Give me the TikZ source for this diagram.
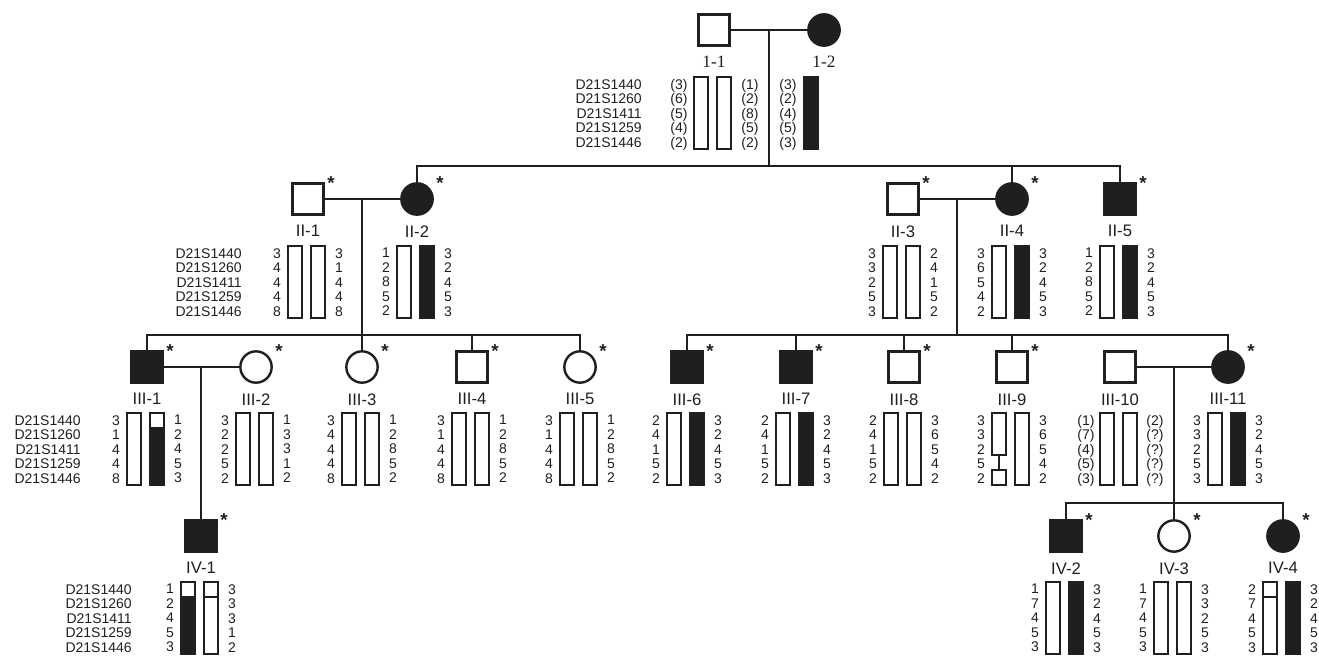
\documentclass[tikz,border=0pt]{standalone}
\usepackage{fontspec}
\setmainfont{Liberation Sans}
\newfontfamily\romfont{Liberation Serif}
\usetikzlibrary{positioning}
\newcommand\markerlist{D21S1440\\D21S1260\\D21S1411\\D21S1259\\D21S1446}

\begin{document}
\begin{tikzpicture}[x=0.75pt,y=-0.75pt,
	person/.style={draw=black!88,line width=1.8pt,minimum size=23.5pt,inner sep=0pt},
	male/.style={person,rectangle},
	female/.style={person,circle},
	aff/.style={fill=black!88},
	link/.style={draw=black!88,line width=1.7pt},
	lab/.style={font=\fontsize{12.5}{13}\selectfont,text=black!88,inner sep=0pt},
	num/.style={font=\fontsize{10.5}{10.875}\selectfont,text=black!88,inner sep=0pt,align=center,anchor=north},
	mk/.style={num,align=right,anchor=north east},
	starmark/.style={font=\fontsize{14}{14}\selectfont\bfseries,text=black!88,inner sep=0pt,anchor=north},
	allelebar/.style={draw=black!88,line width=1.5pt}]
\useasboundingbox (0,0) rectangle (1319,656);
%\draw [help lines,step=50] (0,0) grid (1319,656);

% generation I
\node[male] (I1) at (714,30) {};
\node[female,aff] (I2) at (824,30) {};
% generation II
\node[male] (II1) at (308,199) {};
\node[female,aff] (II2) at (417,199) {};
\node[male] (II3) at (903,199) {};
\node[female,aff] (II4) at (1012,199) {};
\node[male,aff] (II5) at (1120,199) {};
% generation III
\node[male,aff] (III1) at (147,367) {};
\node[female] (III2) at (256,367) {};
\node[female] (III3) at (362,367) {};
\node[male] (III4) at (472,367) {};
\node[female] (III5) at (580,367) {};
\node[male,aff] (III6) at (687,367) {};
\node[male,aff] (III7) at (796,367) {};
\node[male] (III8) at (904,367) {};
\node[male] (III9) at (1012,367) {};
\node[male] (III10) at (1120,367) {};
\node[female,aff] (III11) at (1228,367) {};
% generation IV
\node[male,aff] (IV1) at (201,536) {};
\node[male,aff] (IV2) at (1066,536) {};
\node[female] (IV3) at (1174,536) {};
\node[female,aff] (IV4) at (1283,536) {};

% lines of descent
\coordinate (mI) at (769,30);
\coordinate (sII) at (769,166);
\coordinate (mII) at (362,199);
\coordinate (sIIIa) at (362,335);
\coordinate (mIIb) at (957,199);
\coordinate (sIIIb) at (957,335);
\coordinate (mIII) at (201,367);
\coordinate (mIIIb) at (1174,367);
\coordinate (sIV) at (1174,503);
\foreach \m/\n in {I1/I2,II1/II2,II3/II4,III1/III2,III10/III11}
	\draw[link] (\m) -- (\n);
\draw[link] (mI) -- (sII);
\draw[link] (II2) |- (sII) -| (II5);
\draw[link] (II4) -- (II4 |- sII);
\draw[link] (mII) -- (III3);
\draw[link] (III1) |- (sIIIa) -| (III5);
\draw[link] (III4) -- (III4 |- sIIIa);
\draw[link] (mIIb) -- (sIIIb);
\draw[link] (III6) |- (sIIIb) -| (III11);
\foreach \p in {III7,III8,III9}
	\draw[link] (\p) -- (\p |- sIIIb);
\draw[link] (mIII) -- (IV1);
\draw[link] (mIIIb) -- (IV3);
\draw[link] (IV2) |- (sIV) -| (IV4);

% labels and stars
\node[lab,font=\romfont\fontsize{13}{13}\selectfont,below=7pt of I1] (lI1) {1-1};
\node[lab,font=\romfont\fontsize{13}{13}\selectfont,below=7pt of I2] (lI2) {1-2};
\foreach \p/\t in {II1/II-1,II2/II-2,II3/II-3,II4/II-4,II5/II-5,III1/III-1,III2/III-2,III3/III-3,III4/III-4,III5/III-5,III6/III-6,III7/III-7,III8/III-8,III9/III-9,III10/III-10,III11/III-11,IV1/IV-1,IV2/IV-2,IV3/IV-3,IV4/IV-4}
	\node[lab,below=7pt of \p] (l\p) {\t};
\foreach \p in {II1,II2,II3,II4,II5,III1,III2,III3,III4,III5,III6,III7,III8,III9,III11,IV1,IV2,IV3,IV4}
	\node[starmark] (st\p) at ([shift={(23,-23)}]\p.center) {*};

% markers
\node[mk] (mkI) at (642,79) {\markerlist};
\node[mk] (mkII) at (242,248) {\markerlist};
\node[mk] (mkIII) at (81,415) {\markerlist};
\node[mk] (mkIV) at (132,584) {\markerlist};

% haplotypes: person/centre/top/left/right
\foreach \p/\c/\y/\a/\b in {II1/308/248/{3\\4\\4\\4\\8}/{3\\1\\4\\4\\8},
	II2/417/248/{1\\2\\8\\5\\2}/{3\\2\\4\\5\\3},
	II3/903/248/{3\\3\\2\\5\\3}/{2\\4\\1\\5\\2},
	II4/1012/248/{3\\6\\5\\4\\2}/{3\\2\\4\\5\\3},
	II5/1120/248/{1\\2\\8\\5\\2}/{3\\2\\4\\5\\3},
	III1/147/415/{3\\1\\4\\4\\8}/{1\\2\\4\\5\\3},
	III2/256/415/{3\\2\\2\\5\\2}/{1\\3\\3\\1\\2},
	III3/362/415/{3\\4\\4\\4\\8}/{1\\2\\8\\5\\2},
	III4/472/415/{3\\1\\4\\4\\8}/{1\\2\\8\\5\\2},
	III5/580/415/{3\\1\\4\\4\\8}/{1\\2\\8\\5\\2},
	III6/687/415/{2\\4\\1\\5\\2}/{3\\2\\4\\5\\3},
	III7/796/415/{2\\4\\1\\5\\2}/{3\\2\\4\\5\\3},
	III8/904/415/{2\\4\\1\\5\\2}/{3\\6\\5\\4\\2},
	III9/1012/415/{3\\3\\2\\5\\2}/{3\\6\\5\\4\\2},
	III11/1228/415/{3\\3\\2\\5\\3}/{3\\2\\4\\5\\3},
	IV1/201/584/{1\\2\\4\\5\\3}/{3\\3\\3\\1\\2},
	IV2/1066/584/{1\\7\\4\\5\\3}/{3\\2\\4\\5\\3},
	IV3/1174/584/{1\\7\\4\\5\\3}/{3\\3\\2\\5\\3},
	IV4/1283/584/{2\\7\\4\\5\\3}/{3\\2\\4\\5\\3}}
{
	\node[num] (\p a) at (\c-31,\y) {\a};
	\node[num] (\p b) at (\c+31,\y) {\b};
}
\node[num] (I1a) at (679,79) {(3)\\(6)\\(5)\\(4)\\(2)};
\node[num] (I1b) at (750,79) {(1)\\(2)\\(8)\\(5)\\(2)};
\node[num] (I2a) at (788,79) {(3)\\(2)\\(4)\\(5)\\(3)};
\node[num] (III10a) at (1086,415) {(1)\\(7)\\(4)\\(5)\\(3)};
\node[num] (III10b) at (1155,415) {(2)\\(?)\\(?)\\(?)\\(?)};

% chromosome bars
\foreach \c/\t in {714/77,308/246,417/246,903/246,1012/246,1120/246,147/413,256/413,362/413,472/413,580/413,687/413,796/413,904/413,1120/413,1228/413,1066/582,1174/582,1283/582}
	\draw[allelebar] (\c-20,\t) rectangle ++(14,72);
\foreach \c/\t in {714/77,308/246,903/246,256/413,362/413,472/413,580/413,904/413,1012/413,1120/413,1174/582,201/582}
	\draw[allelebar] (\c+3,\t) rectangle ++(14,72);
\foreach \c/\t in {824/77}
	\filldraw[allelebar,fill=black!88] (\c-20,\t) rectangle ++(14,72);
\foreach \c/\t in {417/246,1012/246,1120/246,687/413,796/413,1228/413,1066/582,1283/582}
	\filldraw[allelebar,fill=black!88] (\c+3,\t) rectangle ++(14,72);
% recombinant bars
\fill[black!88] (150,428) rectangle (164,485);
\draw[allelebar] (150,413) rectangle (164,485) (150,428) -- (164,428);
\fill[black!88] (181,597) rectangle (195,654);
\draw[allelebar] (181,582) rectangle (195,654) (181,597) -- (195,597);
\draw[allelebar] (204,597) -- (218,597);
\draw[allelebar] (1263,597) -- (1277,597);
\draw[allelebar] (992,413) rectangle (1006,455) (999,455) -- (999,470) (992,470) rectangle (1006,485);

\end{tikzpicture}
\end{document}
